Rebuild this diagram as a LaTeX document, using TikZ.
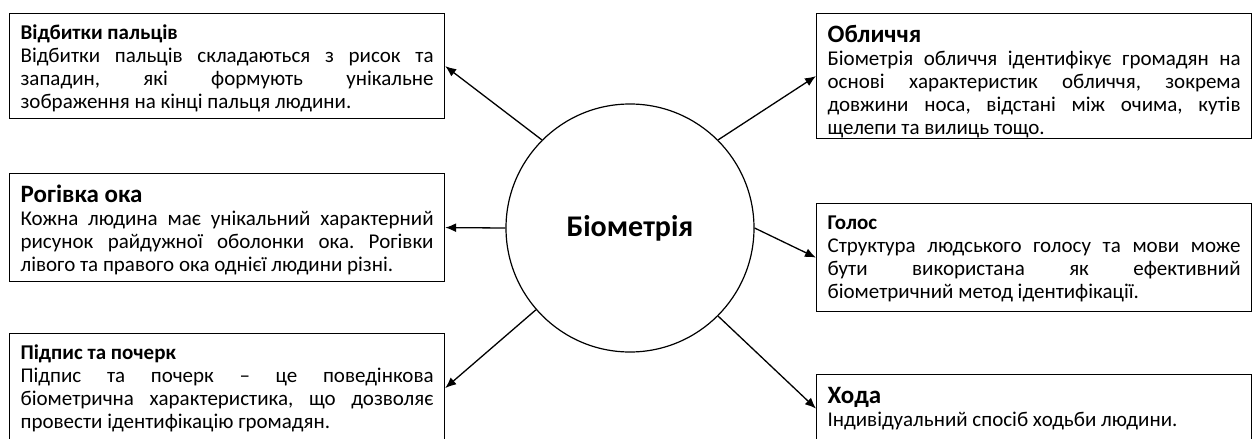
\documentclass[tikz,border=0pt]{standalone}
\usepackage{fontspec}
\setmainfont{Carlito}
\frenchspacing
\usetikzlibrary{arrows.meta,arrows}
\newcommand{\smalltitle}[1]{{\bfseries #1}\\}
\newcommand{\bigtitle}[1]{{\fontsize{12.5}{14}\selectfont\bfseries #1}\\}
\tikzset{
infobox/.style={
  draw,
  line width=0.6pt,
  anchor=north west,
  text width=206.5pt,
  inner sep=5.5pt,
  align=justify,
  font=\fontsize{10.5}{11.5}\selectfont,
  text height=#1
  },
smallbox/.style={infobox=7.5pt},
bigbox/.style={infobox=9pt},
hub/.style={
  draw,
  circle,
  line width=0.6pt,
  minimum size=124pt,
  font=\fontsize{15}{18}\selectfont\bfseries
  }
}
\begin{document}
\begin{tikzpicture}[x=0.5pt,y=-0.5pt,>={Latex[length=5.5pt,width=4.5pt]}]
\useasboundingbox (0,0) rectangle (1259,439);

\node[hub] (bio) at (630,228) {Біометрія};

\node[smallbox,text depth=34pt] (fing) at (9,13)
{\smalltitle{Відбитки пальців}Відбитки пальців складаються з рисок та\linebreak
западин, які формують унікальне\linebreak
зображення на кінці пальця людини.};

\node[bigbox,text depth=34pt] (iris) at (9,173)
{\bigtitle{Рогівка ока}Кожна людина має унікальний характерний\linebreak
рисунок райдужної оболонки ока. Рогівки\linebreak
лівого та правого ока однієї людини різні.};

\node[smallbox,text depth=36pt] (sign) at (9,333)
{\smalltitle{Підпис та почерк}Підпис та почерк – це поведінкова\linebreak
біометрична характеристика, що дозволяє\linebreak
провести ідентифікацію громадян.};

\node[bigbox,text depth=42.5pt] (face) at (816,13)
{\bigtitle{Обличчя}Біометрія обличчя ідентифікує громадян на\linebreak
основі характеристик обличчя, зокрема\linebreak
довжини носа, відстані між очима, кутів\linebreak
щелепи та вилиць тощо.};

\node[smallbox,text depth=35.5pt] (voice) at (816,203)
{\smalltitle{Голос}Структура людського голосу та мови може\linebreak
бути використана як ефективний\linebreak
біометричний метод ідентифікації.};

\node[bigbox,text depth=14pt] (gait) at (816,374)
{\bigtitle{Хода}Індивідуальний спосіб ходьби людини.};

\begin{scope}[line width=0.65pt]
\draw[->] (bio.135) to (fing.east);
\draw[->] (bio.west) to (iris.east);
\draw[->] (bio.221) to (sign.east);
\draw[->] (bio.45) to (face.west);
\draw[->] (bio.east) to (voice.west);
\draw[->] (bio.315) to (gait.west);
\end{scope}
\end{tikzpicture}
\end{document}
